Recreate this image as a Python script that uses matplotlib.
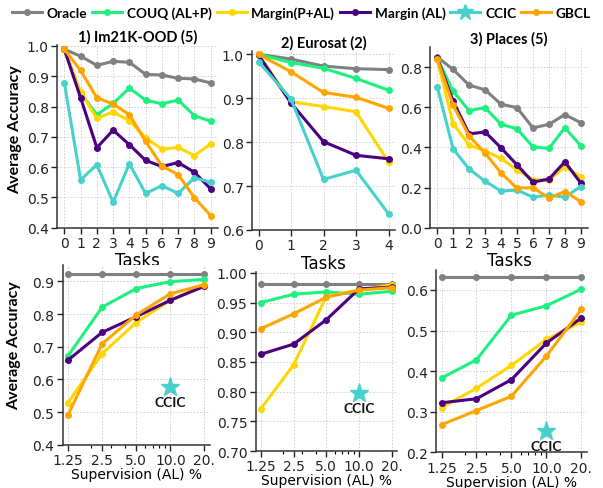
import matplotlib
matplotlib.use("Agg")
import matplotlib.pyplot as plt
from matplotlib.lines import Line2D
from matplotlib.ticker import FixedLocator, FixedFormatter, NullFormatter, LogLocator

# ---------------- data ----------------
methods = ["Oracle", "COUQ (AL+P)", "Margin(P+AL)", "Margin (AL)", "CCIC", "GBCL"]
colors = {"Oracle": "#808080", "COUQ (AL+P)": "#1EF080", "Margin(P+AL)": "#FFD700",
          "Margin (AL)": "#4B0082", "CCIC": "#48D1CC", "GBCL": "#FFA500"}

titles = ["1) Im21K-OOD (5)", "2) Eurosat (2)", "3) Places (5)"]

tasks_im = list(range(10))
im_oracle = [0.989, 0.966, 0.936, 0.949, 0.946, 0.906, 0.904, 0.893, 0.891, 0.878]
im_couq = [0.989, 0.845, 0.773, 0.810, 0.861, 0.821, 0.809, 0.821, 0.770, 0.751]
im_mpal = [0.989, 0.848, 0.761, 0.782, 0.753, 0.697, 0.659, 0.665, 0.638, 0.677]
im_mal = [0.989, 0.829, 0.664, 0.722, 0.674, 0.622, 0.602, 0.615, 0.583, 0.528]
im_ccic = [0.879, 0.558, 0.608, 0.484, 0.611, 0.513, 0.539, 0.513, 0.565, 0.550]
im_gbcl = [0.989, 0.919, 0.829, 0.808, 0.773, 0.685, 0.604, 0.575, 0.499, 0.440]

tasks_eu = list(range(5))
eu_oracle = [1.000, 0.989, 0.973, 0.967, 0.965]
eu_couq = [1.000, 0.981, 0.968, 0.945, 0.918]
eu_mpal = [1.000, 0.892, 0.881, 0.869, 0.755]
eu_mal = [0.998, 0.889, 0.801, 0.770, 0.762]
eu_ccic = [0.983, 0.898, 0.715, 0.736, 0.637]
eu_gbcl = [1.000, 0.960, 0.913, 0.902, 0.877]

tasks_pl = list(range(10))
pl_oracle = [0.850, 0.788, 0.710, 0.687, 0.615, 0.598, 0.497, 0.515, 0.563, 0.523]
pl_couq = [0.845, 0.680, 0.583, 0.598, 0.515, 0.493, 0.403, 0.395, 0.498, 0.408]
pl_mpal = [0.840, 0.517, 0.412, 0.382, 0.345, 0.288, 0.240, 0.237, 0.303, 0.255]
pl_mal = [0.845, 0.630, 0.467, 0.477, 0.398, 0.313, 0.227, 0.242, 0.328, 0.222]
pl_ccic = [0.703, 0.393, 0.292, 0.232, 0.182, 0.188, 0.152, 0.163, 0.152, 0.205]
pl_gbcl = [0.840, 0.610, 0.457, 0.372, 0.273, 0.197, 0.200, 0.148, 0.180, 0.130]

supervision = [1.25, 2.5, 5.0, 10.0, 20.0]
sup_labels = ["1.25", "2.5", "5.0", "10.0", "20."]

s_im_oracle = [0.923] * 5
s_im_couq = [0.672, 0.821, 0.878, 0.899, 0.906]
s_im_mpal = [0.529, 0.679, 0.774, 0.842, 0.890]
s_im_mal = [0.659, 0.744, 0.792, 0.842, 0.885]
s_im_gbcl = [0.492, 0.709, 0.797, 0.862, 0.890]
s_im_ccic = 0.578

s_eu_oracle = [0.981] * 5
s_eu_couq = [0.950, 0.964, 0.968, 0.964, 0.969]
s_eu_mpal = [0.771, 0.845, 0.960, 0.971, 0.980]
s_eu_mal = [0.863, 0.880, 0.921, 0.973, 0.976]
s_eu_gbcl = [0.906, 0.931, 0.959, 0.971, 0.975]
s_eu_ccic = 0.797

s_pl_oracle = [0.632] * 5
s_pl_couq = [0.383, 0.428, 0.538, 0.561, 0.602]
s_pl_mpal = [0.310, 0.358, 0.414, 0.478, 0.521]
s_pl_mal = [0.322, 0.332, 0.379, 0.469, 0.531]
s_pl_gbcl = [0.268, 0.303, 0.338, 0.437, 0.552]
s_pl_ccic = 0.252

ccic_sup = 10.0

top_data = [
    (tasks_im, [im_oracle, im_couq, im_mpal, im_mal, im_ccic, im_gbcl]),
    (tasks_eu, [eu_oracle, eu_couq, eu_mpal, eu_mal, eu_ccic, eu_gbcl]),
    (tasks_pl, [pl_oracle, pl_couq, pl_mpal, pl_mal, pl_ccic, pl_gbcl]),
]
bot_data = [
    ([s_im_oracle, s_im_couq, s_im_mpal, s_im_mal, None, s_im_gbcl], s_im_ccic),
    ([s_eu_oracle, s_eu_couq, s_eu_mpal, s_eu_mal, None, s_eu_gbcl], s_eu_ccic),
    ([s_pl_oracle, s_pl_couq, s_pl_mpal, s_pl_mal, None, s_pl_gbcl], s_pl_ccic),
]

# ---------------- figure ----------------
W, H = 603, 489
fig = plt.figure(figsize=(W / 100, H / 100), dpi=100)

def ax_at(l, r, t, b):
    return fig.add_axes([l / W, 1 - b / H, (r - l) / W, (b - t) / H])

TITLE_FONT = "Lato"
top_pos = [(57, 218, 46, 228.7), (252, 395, 51.7, 231), (430, 588, 48, 228.7)]
bot_pos = [(62.7, 210, 266, 445.7), (255.7, 397, 273.3, 452), (436, 587, 270.7, 453.3)]
top_ylims = [(0.4, 1.003), (0.6, 1.008), (0.0, 0.9)]
top_yticks = [[0.4, 0.5, 0.6, 0.7, 0.8, 0.9, 1.0], [0.6, 0.7, 0.8, 0.9, 1.0], [0.0, 0.2, 0.4, 0.6, 0.8]]
top_fmt = ["{:.1f}", "{:.1f}", "{:.1f}"]
top_xlims = [(-0.45, 9.45), (-0.2, 4.2), (-0.45, 9.45)]
bot_ylims = [(0.4, 0.95), (0.70, 1.001), (0.2, 0.65)]
bot_yticks = [[0.4, 0.5, 0.6, 0.7, 0.8, 0.9], [0.70, 0.75, 0.80, 0.85, 0.90, 0.95, 1.00], [0.2, 0.3, 0.4, 0.5, 0.6]]
bot_fmt = ["{:.1f}", "{:.2f}", "{:.1f}"]

LW = 2.2
MS = 4

def style(ax):
    for s in ["top", "right"]:
        ax.spines[s].set_visible(False)
    for s in ["left", "bottom"]:
        ax.spines[s].set_color("#333333")
        ax.spines[s].set_linewidth(1.1)
    ax.grid(True, which="major", color="#cccccc", linestyle=(0, (2, 2)), linewidth=0.6)
    ax.set_axisbelow(True)
    ax.tick_params(labelsize=10, length=4, width=1, colors="#222222", pad=2)

for i, (pos, (xs, series)) in enumerate(zip(top_pos, top_data)):
    ax = ax_at(*pos)
    style(ax)
    for name, ys in zip(methods, series):
        ax.plot(xs, ys, color=colors[name], lw=LW, marker="o", ms=MS, zorder=3)
    ax.set_xlim(*top_xlims[i])
    ax.set_ylim(*top_ylims[i])
    ax.set_xticks(xs)
    ax.set_yticks(top_yticks[i])
    ax.set_yticklabels([top_fmt[i].format(v) for v in top_yticks[i]])
    ax.set_xlabel("Tasks", fontsize=12, labelpad=1)
    ax.set_title(titles[i], fontsize=10.5, fontweight="bold", family=TITLE_FONT, pad=3)
    if i == 0:
        ax.set_ylabel("Average Accuracy", fontsize=11.5, fontweight="bold", family=TITLE_FONT)
        ax.yaxis.set_label_coords(-0.217, 0.54)

for i, (pos, (series, ccic_val)) in enumerate(zip(bot_pos, bot_data)):
    ax = ax_at(*pos)
    style(ax)
    ax.set_xscale("log")
    for name, ys in zip(methods, series):
        if ys is None:
            continue
        ax.plot(supervision, ys, color=colors[name], lw=LW, marker="o", ms=MS, zorder=3)
    ax.plot([ccic_sup], [ccic_val], marker="*", ms=14, color=colors["CCIC"], ls="none", zorder=4)
    yr = bot_ylims[i][1] - bot_ylims[i][0]
    ax.text(ccic_sup, ccic_val - 0.05 * yr, "CCIC", ha="center", va="top", fontsize=10,
            fontweight="bold", family=TITLE_FONT, color="#111111")
    ax.set_xlim(1.12, 22.4)
    ax.set_ylim(*bot_ylims[i])
    ax.xaxis.set_major_locator(FixedLocator(supervision))
    ax.xaxis.set_major_formatter(FixedFormatter(sup_labels))
    ax.xaxis.set_minor_locator(LogLocator(base=10, subs=range(2, 10)))
    ax.xaxis.set_minor_formatter(NullFormatter())
    ax.tick_params(axis="x", which="minor", length=2, width=0.8)
    ax.set_yticks(bot_yticks[i])
    ax.set_yticklabels([bot_fmt[i].format(v) for v in bot_yticks[i]])
    ax.set_xlabel("Supervision (AL) %", fontsize=10, labelpad=0)
    if i == 0:
        ax.set_ylabel("Average Accuracy", fontsize=11.5, fontweight="bold", family=TITLE_FONT)
        ax.yaxis.set_label_coords(-0.283, 0.555)

handles = []
for name in methods:
    if name == "CCIC":
        handles.append(Line2D([], [], color=colors[name], lw=LW, marker="*", ms=12))
    else:
        handles.append(Line2D([], [], color=colors[name], lw=LW, marker="o", ms=MS))
fig.legend(handles, methods, loc="center", bbox_to_anchor=(0.5, 1 - 14 / H), ncol=6, frameon=False,
           prop={"family": TITLE_FONT, "weight": "bold", "size": 9.8}, handlelength=2.2,
           handletextpad=0.35, columnspacing=0.35, borderaxespad=0, borderpad=0)

fig.savefig("out.png", dpi=100)
